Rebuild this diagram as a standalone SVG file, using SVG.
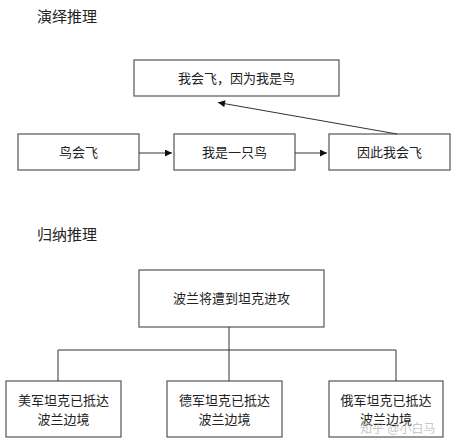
<svg xmlns="http://www.w3.org/2000/svg" width="455" height="447" viewBox="0 0 455 447">
<defs>
<style>
text{font-family:"Liberation Sans","Noto Sans CJK SC",sans-serif;fill:#222;}
.t{font-size:15px;}
.b{font-size:13px;text-anchor:middle;}
rect{fill:#fff;stroke:#555;stroke-width:1.2;}
.c{stroke:#333;stroke-width:1;fill:none;}
</style>
<marker id="ah" viewBox="0 0 10 10" refX="10" refY="5" markerWidth="9" markerHeight="7" orient="auto" markerUnits="userSpaceOnUse"><path d="M0,0 L10,5 L0,10 z" fill="#111"/></marker>
</defs>
<rect x="0" y="0" width="455" height="447" style="fill:#fff;stroke:none"/>
<text class="t" x="37" y="22">演绎推理</text>
<text class="t" x="37" y="240">归纳推理</text>
<g id="d-top"><rect x="134" y="60" width="205" height="36"/><text class="b" x="236.5" y="83">我会飞，因为我是鸟</text></g>
<g id="d-1"><rect x="18" y="134" width="121" height="36"/><text class="b" x="78.5" y="157">鸟会飞</text></g>
<g id="d-2"><rect x="174" y="134" width="121" height="36"/><text class="b" x="234.5" y="157">我是一只鸟</text></g>
<g id="d-3"><rect x="329" y="134" width="121" height="36"/><text class="b" x="389.5" y="157">因此我会飞</text></g>
<g id="i-top"><rect x="139" y="270" width="185" height="57"/><text class="b" x="231.5" y="303">波兰将遭到坦克进攻</text></g>
<g id="i-1"><rect x="6" y="381" width="115" height="56"/><text class="b" x="63.5" y="405">美军坦克已抵达</text><text class="b" x="63.5" y="424">波兰边境</text></g>
<g id="i-2"><rect x="167" y="381" width="115" height="56"/><text class="b" x="224.5" y="405">德军坦克已抵达</text><text class="b" x="224.5" y="424">波兰边境</text></g>
<g id="i-3"><rect x="329" y="381" width="114" height="56"/><text class="b" x="386" y="405">俄军坦克已抵达</text><text class="b" x="386" y="424">波兰边境</text></g>
<g id="connectors">
<line class="c" x1="139" y1="153" x2="172" y2="153" marker-end="url(#ah)"/>
<line class="c" x1="295" y1="153" x2="327" y2="153" marker-end="url(#ah)"/>
<line class="c" x1="397" y1="134" x2="218" y2="102.5" marker-end="url(#ah)"/>
<polyline class="c" points="229,327 229,381"/>
<polyline class="c" points="58,381 58,350 396,350 396,381"/>
</g>
<text x="360" y="433" style="font-size:12px;fill:#bbb;opacity:0.8">知乎 @小白马</text>
</svg>
